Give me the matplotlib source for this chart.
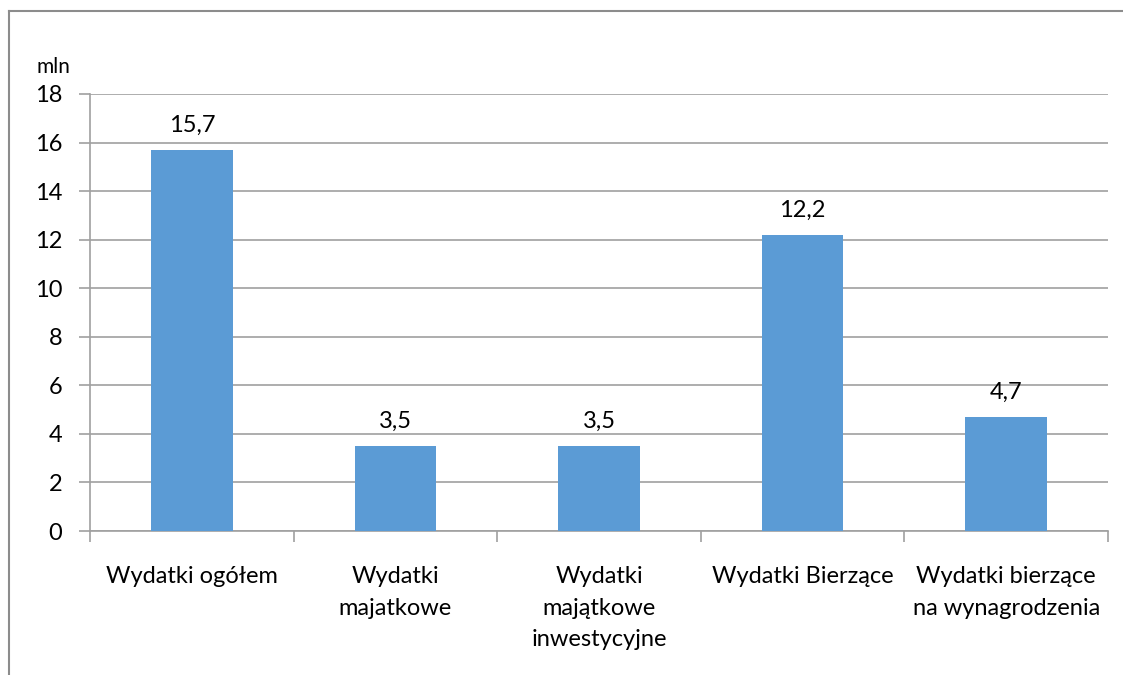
import numpy as np
import matplotlib.pyplot as plt
from matplotlib.lines import Line2D

plt.rcParams['font.family'] = ['Lato', 'DejaVu Sans']

categories = ["Wydatki ogółem", "Wydatki\nmajatkowe", "Wydatki\nmajątkowe\ninwestycyjne",
              "Wydatki Bierzące", "Wydatki bierzące\nna wynagrodzenia"]
values = [15.7, 3.5, 3.5, 12.2, 4.7]
value_labels = ["15,7", "3,5", "3,5", "12,2", "4,7"]

fig = plt.figure(figsize=(11.23, 6.75), dpi=100)
ax = fig.add_axes([90/1123, 1-531/675, (1108-90)/1123, (531-94)/675])

x = np.arange(len(categories))
bars = ax.bar(x, values, width=0.4, color='#5B9BD5', zorder=3)
for xi, v, lab in zip(x, values, value_labels):
    ax.text(xi, v + 0.75, lab, ha='center', va='baseline', fontsize=17)

ax.set_xlim(-0.5, len(categories) - 0.5)
ax.set_ylim(0, 18)
ax.set_yticks(np.arange(0, 19, 2))
ax.yaxis.grid(True, color='#A0A0A0', lw=1.2, zorder=0)
ax.tick_params(axis='y', length=8, width=1.2, color='#A0A0A0', labelsize=17, pad=12)
ax.set_xticks(np.arange(-0.5, len(categories), 1))
ax.set_xticklabels([])
ax.tick_params(axis='x', length=8, width=1.2, color='#A0A0A0')
for xi, c in zip(x, categories):
    ax.text(xi, -1.45, c, ha='center', va='top', fontsize=17, linespacing=1.62)

for s in ['top', 'right']:
    ax.spines[s].set_visible(False)
ax.spines['left'].set_color('#A0A0A0')
ax.spines['bottom'].set_color('#A0A0A0')
ax.spines['left'].set_linewidth(1.2)
ax.spines['bottom'].set_linewidth(1.2)

fig.text(37/1123, 1-67/675, "mln", fontsize=15, va='center')

# chart border (left and top visible)
fig.add_artist(Line2D([9/1123, 9/1123], [0, 1-11/675], transform=fig.transFigure, color='#8C8C8C', lw=1.5))
fig.add_artist(Line2D([9/1123, 1], [1-11/675, 1-11/675], transform=fig.transFigure, color='#8C8C8C', lw=1.5))

fig.savefig("out.png", dpi=100)
